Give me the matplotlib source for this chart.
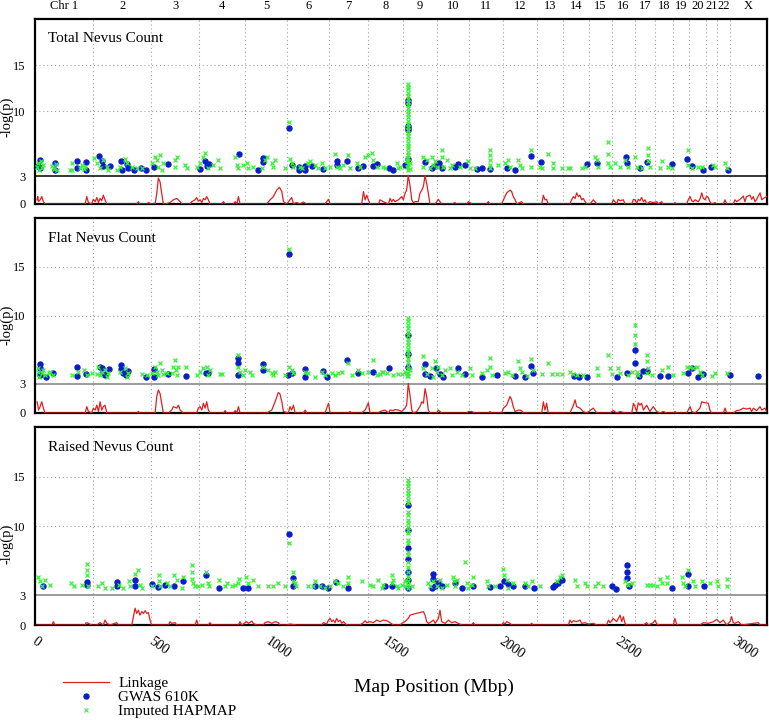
import numpy as np
import matplotlib.pyplot as plt
from matplotlib.lines import Line2D

plt.rcParams['font.family'] = ['Liberation Serif', 'DejaVu Serif']

RED = '#e02020'
BLUE = '#0a1ec8'
GREEN = '#38f038'
GRID = '#a0a0a0'

chr_names = ['Chr 1', '2', '3', '4', '5', '6', '7', '8', '9', '10', '11', '12',
             '13', '14', '15', '16', '17', '18', '19', '20', '21', '22', 'X']
# chromosome boundaries along the map (Mbp)
chr_bounds = [240, 489, 694, 891, 1072, 1252, 1419, 1569, 1714, 1852, 1997, 2143,
              2254, 2366, 2464, 2563, 2649, 2726, 2795, 2867, 2915, 2970]
x_min, x_max = -9, 3129
x_ticks = [0, 500, 1000, 1500, 2000, 2500, 3000]
y_ticks = [0, 3, 10, 15]
titles = ['Total Nevus Count', 'Flat Nevus Count', 'Raised Nevus Count']

# ---- Total nevus count ----
tot_link = [(0,0.45),(3,0.8),(6,0.25),(13,0.45),(20,0.8),(27,0.25),(34,0),
    (206,0),(213,0.8),(220,0.15),(234,0),(241,0.5),(249,0.25),(256,0.7),(263,0.15),(270,0.6),(277,0.35),(284,0.95),(291,0.45),(299,0),
    (427,0),(434,0.25),(441,0),(470,0),(477,0.15),(491,0),
    (506,0),(513,1.15),(520,2.8),(527,2.4),(534,1.15),(541,0.05),(549,0),
    (570,0.15),(584,0.45),(599,0.6),(613,0.25),(620,0),
    (656,0),(663,0.25),(677,0.45),(684,0.7),(691,0.3),(699,0.45),(706,0.15),(713,0.6),(720,0.45),(727,0.8),(734,0.45),(741,0),
    (791,0),(799,0.25),(806,0),(841,0),(849,0.25),(856,0),(863,0.8),(870,0),
    (984,0),(999,0.45),(1013,0.8),(1027,1.5),(1039,1.8),(1049,1.35),(1056,0.25),(1070,0),(1084,0.45),(1091,0.7),(1099,0.05),(1113,0.15),(1127,0),(1141,0.2),(1156,0),
    (1234,0),(1249,0.5),(1256,0),
    (1391,0),(1399,1.35),(1406,0.45),(1413,0.95),(1420,0.45),(1427,0),
    (1463,0),(1470,0.45),(1484,0.25),(1506,0),(1513,0.6),(1520,0.25),(1527,0.5),(1534,0.25),(1549,0.45),(1563,0.8),(1570,0.45),(1577,1.15),(1584,1.5),(1591,3.1),(1599,1.9),(1606,0.45),(1613,0.15),(1620,0.25),(1634,0.25),(1641,1.15),(1649,1.5),(1656,1.9),(1663,3.1),(1670,2.2),(1677,1.15),(1684,0),
    (1706,0),(1720,0.5),(1727,0.25),(1734,0),(1777,0),(1791,0.15),(1799,0),
    (1841,0),(1849,0.25),(1856,0.15),(1863,0),(1927,0),(1934,0.25),(1941,0),
    (1991,0),(1999,0.45),(2013,1.2),(2027,1.5),(2034,1.35),(2041,0.8),(2049,0.45),(2056,0),(2077,0.25),(2084,0),
    (2163,0),(2170,0.95),(2177,0.45),(2184,0.5),(2191,0),
    (2284,0),(2291,0.45),(2299,0.8),(2306,0.6),(2313,1.2),(2320,0.8),(2327,0.95),(2334,0.45),(2341,0.6),(2349,0.25),(2356,0),(2370,0),(2384,0.45),(2391,0.25),(2399,0),
    (2463,0),(2470,0.45),(2477,0.25),(2484,0),(2491,0.5),(2499,0.35),(2513,0.45),(2520,0),
    (2549,0),(2556,0.5),(2563,0.45),(2570,0.05),(2577,0.5),(2584,0.35),(2591,0.7),(2599,0.25),(2606,0.45),(2613,0),(2627,0.25),(2641,0.15),(2656,0.25),(2663,0),(2677,0.25),(2684,0),
    (2727,0),(2734,0.15),(2741,0),
    (2784,0),(2791,0.45),(2799,0.8),(2806,0.35),(2813,0.25),(2820,0.45),(2834,0.25),(2841,0.5),(2849,1.2),(2856,0.6),(2863,0.45),(2870,0.85),(2877,0.7),(2884,0.25),(2891,0),(2906,0.15),(2913,0),(2941,0),(2949,0.45),(2956,0),
    (2984,0),(2991,0.45),(2999,0.25),(3013,0.5),(3027,0.85),(3034,0.25),(3041,0.8),(3056,0.95),(3063,0.5),(3070,0.8),(3077,0.25),(3084,0.5),(3099,1.2),(3106,0.45),(3113,0.6),(3127,0.8)]

tot_gwas = [(2,4.1),(13,4.8),(13,3.9),(77,4.4),(77,3.7),(173,4.7),(173,3.9),(210,4.5),(210,3.7),(267,5.2),(277,4.6),(284,4.1),(313,4.1),
    (359,4.6),(363,3.7),(387,4.3),(391,3.9),(416,3.7),(444,3.9),(467,3.7),(499,4.0),(563,4.3),(699,3.8),(720,4.6),(727,4.1),(739,4.3),
    (866,5.4),(949,3.7),(970,5.0),(970,4.5),(1080,8.25),(1091,4.2),(1123,4.0),(1123,3.7),(1149,4.1),(1149,3.7),(1177,4.1),(1227,3.8),
    (1284,4.6),(1284,4.2),(1330,4.6),(1377,3.9),(1396,4.1),(1441,4.1),(1456,4.3),(1510,3.9),(1527,3.7),
    (1577,4.2),(1591,4.9),(1591,8.0),(1591,8.25),(1591,8.4),(1591,10.9),(1591,11.2),(1663,4.5),(1691,3.9),(1706,4.1),(1724,4.4),(1734,3.9),
    (1791,4.0),(1806,4.3),(1834,4.2),(1884,3.8),(1906,3.9),(1941,3.8),(2013,3.9),(2049,3.7),(2117,5.2),(2159,4.5),(2356,4.3),(2399,4.4),
    (2524,5.1),(2527,4.4),(2584,3.9),(2613,4.5),(2720,4.3),(2787,4.9),(2806,4.1),(2856,3.7),(2889,4.0),(2963,3.7)]

tot_imp = [(0,4.0),(5,4.4),(10,3.7),(15,4.6),(22,3.9),(26,4.2),(65,4.1),(72,3.8),(80,4.3),(85,3.7),
    (141,3.7),(149,4.4),(150,3.7),(184,3.9),(191,4.2),(200,3.8),(206,4.0),
    (246,5.0),(256,4.4),(270,3.9),(284,4.8),(299,4.0),(306,3.7),
    (341,3.7),(356,4.0),(377,4.9),(384,4.4),(406,4.0),(427,3.9),
    (449,3.9),(491,4.4),(506,5.1),(513,4.8),(520,4.0),(527,5.3),(534,3.7),(541,4.4),
    (591,4.8),(591,4.0),(599,5.1),(634,4.2),(641,3.9),
    (684,4.0),(699,4.4),(713,5.1),(720,5.5),(734,3.9),(756,4.2),(777,4.8),(784,3.9),
    (849,5.1),(856,4.2),(863,3.9),(884,4.2),(899,4.4),(906,3.9),(927,4.0),
    (963,3.9),(977,4.8),(984,5.1),(1006,4.4),(1013,4.0),(1020,4.8),
    (1063,3.9),(1081,8.9),(1084,4.9),(1091,4.4),(1099,4.0),
    (1127,4.0),(1134,3.9),(1163,4.4),(1170,4.6),(1191,4.2),(1206,3.9),(1220,4.4),(1234,3.9),(1256,4.0),
    (1277,5.4),(1284,4.0),(1299,3.9),(1313,4.2),(1334,5.3),(1341,3.9),
    (1370,4.4),(1384,4.0),(1406,5.1),(1420,5.3),(1434,5.5),(1441,4.8),(1456,4.0),
    (1484,4.0),(1491,3.9),(1541,4.4),(1549,3.9),(1556,4.0),
    (1591,13.0),(1591,12.7),(1591,12.4),(1591,12.0),(1591,11.7),(1591,11.4),(1591,11.0),(1591,10.7),(1591,10.4),(1591,10.0),
    (1591,9.7),(1591,9.4),(1591,9.0),(1591,8.7),(1591,8.3),(1591,8.0),(1591,7.7),(1591,7.3),(1591,7.0),(1591,6.6),
    (1591,6.3),(1591,6.0),(1591,5.6),(1591,5.3),(1591,5.0),(1591,4.6),(1591,4.3),(1591,4.0),(1591,3.7),
    (1584,4.0),(1584,4.6),(1584,5.0),(1599,3.8),(1599,4.4),
    (1656,5.1),(1656,4.0),(1670,4.8),(1684,3.9),(1691,5.1),(1699,4.2),(1706,4.6),(1713,4.0),(1734,5.8),(1734,5.1),(1741,4.0),(1756,4.8),(1770,3.9),(1777,4.2),
    (1813,4.0),(1849,4.6),(1856,3.9),(1877,3.9),
    (1941,5.8),(1941,5.3),(1941,4.8),(1941,4.2),(1941,3.9),
    (1977,4.2),(2006,4.4),(2020,4.8),(2027,4.0),(2063,4.8),(2070,4.2),(2077,3.9),
    (2117,5.8),(2117,4.0),(2156,4.0),(2163,3.9),(2189,5.4),(2210,4.4),(2213,3.9),
    (2249,3.9),(2277,3.9),(2284,3.9),(2334,3.9),(2349,4.0),
    (2391,5.1),(2399,4.8),(2406,4.0),(2449,6.7),(2449,5.4),(2449,4.4),(2456,4.0),(2477,4.4),(2499,4.0),
    (2520,4.8),(2534,4.0),(2563,5.1),(2570,4.0),(2591,3.9),(2620,6.0),(2620,5.3),(2620,4.6),(2627,4.0),
    (2670,3.9),(2677,4.6),(2706,4.0),(2720,3.9),(2789,5.8),(2791,4.2),(2806,3.9),(2834,4.0),(2849,4.0),
    (2899,4.2),(2906,4.0),(2949,4.4),(2956,3.9)]

# ---- Flat nevus count ----
flat_link = [(0,1.15),(3,0.8),(6,0.3),(13,0.65),(20,1.15),(27,0.5),(34,0),
    (206,0),(213,0.65),(220,0.15),(234,0),(241,0.5),(249,0.3),(256,0.8),(263,0.15),(270,1.15),(277,0.3),(284,0.65),(291,0.8),(299,0),
    (427,0),(434,0.15),(441,0),
    (506,0),(513,1.7),(520,2.35),(527,2.0),(534,1.0),(541,0),
    (563,0),(577,0.3),(584,0.65),(599,0.5),(606,0.8),(613,0.3),(620,0.15),(627,0),
    (684,0),(691,0.5),(699,0.65),(706,0.3),(713,1.0),(720,0.5),(727,1.15),(734,0.3),(741,0),
    (799,0),(806,0.25),(813,0),(841,0),(849,0.25),(856,0),(863,0.65),(870,0),
    (984,0),(1006,0.3),(1020,1.15),(1034,2.1),(1041,1.95),(1049,1.15),(1056,0.15),(1077,0),(1084,0.65),(1091,0.3),(1099,0.8),(1106,0),(1141,0),(1149,0.3),(1156,0),
    (1234,0),(1249,1.0),(1256,0),(1334,0),(1341,0.15),(1349,0),
    (1391,0),(1406,0.3),(1413,0.65),(1420,1.05),(1427,0),
    (1463,0),(1470,0.15),(1491,0.3),(1506,0),(1513,0.3),(1527,0.25),(1534,0.35),(1549,0.3),(1563,0.15),(1577,0.5),(1584,0.8),(1591,3.05),(1599,1.7),(1606,0.3),(1613,0),(1627,0.15),(1641,0.65),(1649,1.15),(1656,1.0),(1663,2.5),(1670,1.7),(1677,0.3),(1684,0),
    (1713,0),(1720,0.3),(1727,0.15),(1734,0),
    (1841,0),(1849,0.15),(1863,0.15),(1877,0),(1934,0),(1941,0.15),(1949,0),
    (1991,0),(1999,0.5),(2013,0.8),(2027,1.7),(2034,1.35),(2041,0.65),(2049,0.15),(2063,0.3),(2077,0.25),(2084,0),
    (2163,0),(2170,1.15),(2177,0.3),(2184,1.0),(2191,0),
    (2284,0),(2299,0.8),(2306,1.35),(2313,0.65),(2327,0.5),(2341,0.15),(2356,0),(2384,0.5),(2399,0),
    (2456,0),(2470,0.25),(2484,0),(2499,0.15),(2520,0),
    (2549,0),(2556,1.0),(2563,0.65),(2570,0.15),(2577,1.05),(2584,0.8),(2591,1.0),(2599,0.3),(2613,0.8),(2627,0.15),(2641,0.65),(2656,0.15),(2670,0),(2684,0.15),(2698,0),
    (2727,0),(2734,0.15),(2741,0),
    (2784,0),(2799,0.65),(2806,0.15),(2820,0),(2841,0.5),(2849,1.15),(2863,1.05),(2877,1.0),(2884,0.3),(2891,0),(2941,0),(2949,0.5),(2956,0),
    (2984,0),(2999,0.25),(3013,0.3),(3027,0.5),(3041,0.4),(3056,0.5),(3063,0.15),(3070,0.5),(3084,0.25),(3099,0.65),(3106,0.3),(3120,0.5),(3127,0.15)]

flat_gwas = [(13,5.0),(13,4.6),(13,3.9),(39,3.7),(67,4.1),(170,4.7),(170,3.8),(210,4.0),(270,4.75),(277,4.6),(284,4.2),(291,3.9),(310,4.5),
    (359,4.9),(359,4.5),(370,4.1),(381,3.9),(389,4.3),(467,3.7),(499,3.7),(501,4.5),(563,4.0),(639,3.8),(723,4.1),(734,4.1),
    (863,5.6),(863,5.1),(863,3.9),(970,5.0),(970,4.4),(1080,16.3),(1077,3.9),(1091,4.1),(1149,4.5),(1149,3.7),(1224,4.3),(1241,3.7),
    (1327,5.4),(1377,4.1),(1441,4.2),(1510,4.6),
    (1591,8.0),(1591,6.1),(1591,4.75),(1663,5.0),(1663,4.0),(1684,3.8),(1710,4.6),(1727,4.0),(1741,3.7),(1806,4.65),(1834,4.0),
    (1906,3.7),(1970,3.9),(2049,3.8),(2091,3.7),(2117,4.85),(2124,4.1),(2303,3.8),(2323,3.7),(2359,3.7),(2487,3.7),(2527,4.1),
    (2563,6.5),(2563,5.1),(2581,3.8),(2599,4.3),(2613,4.3),(2670,3.8),(2706,3.8),(2791,4.1),(2806,4.6),(2834,3.7),(2856,4.0),
    (2970,3.9),(3091,3.8)]

flat_imp = [(2,4.2),(5,4.6),(8,3.7),(20,4.1),(27,4.4),(35,3.9),(49,4.1),(56,4.2),(70,3.9),
    (149,3.9),(177,4.2),(199,4.4),(213,3.9),(234,4.1),
    (256,4.0),(263,4.75),(270,3.9),(277,4.2),(291,4.4),(299,3.7),(306,4.1),
    (356,4.2),(377,4.6),(384,3.7),(391,4.1),(449,4.0),(470,3.9),
    (491,4.1),(506,4.75),(513,4.2),(520,3.9),(527,5.1),(534,4.4),(541,4.0),(556,4.1),
    (577,4.1),(584,4.75),(591,5.4),(596,4.4),(599,3.9),(606,4.75),(639,4.75),
    (684,3.9),(699,4.2),(713,4.6),(727,4.75),(734,3.9),(741,4.4),(784,4.0),(791,4.0),
    (863,5.9),(863,4.75),(870,4.2),(884,3.9),(891,4.4),(913,4.2),(920,3.9),
    (970,4.75),(991,4.4),(1006,4.1),(1013,3.9),(1020,4.2),
    (1063,3.9),(1081,16.8),(1081,4.75),(1091,4.4),(1099,4.1),
    (1149,4.2),(1163,4.1),(1191,3.7),(1220,4.2),(1234,3.9),(1263,4.1),
    (1277,3.9),(1291,4.1),(1306,4.2),(1334,5.1),(1349,3.9),(1377,4.4),
    (1391,4.1),(1420,4.2),(1441,5.4),(1456,3.9),(1477,4.2),(1499,4.1),(1527,3.9),(1549,4.0),
    (1470,4.0),(1484,4.2),(1563,4.0),(1577,4.2),
    (1591,9.7),(1591,9.4),(1591,9.0),(1591,8.7),(1591,8.3),(1591,8.0),(1591,7.6),(1591,7.3),(1591,7.0),
    (1591,6.6),(1591,6.3),(1591,5.9),(1591,5.5),(1591,5.2),(1591,4.8),(1591,4.5),(1591,4.1),(1591,3.8),
    (1584,4.1),(1584,3.8),(1599,4.4),
    (1656,5.8),(1656,4.6),(1670,4.0),(1691,4.6),(1699,3.7),(1706,5.3),(1713,4.2),(1720,4.75),(1734,3.9),(1749,4.4),(1770,4.6),(1777,3.9),
    (1799,4.2),(1820,3.9),(1856,4.6),(1863,3.9),
    (1906,4.1),(1927,4.4),(1941,5.6),(1941,4.75),(1949,3.9),
    (2006,4.1),(2020,4.2),(2034,3.9),(2063,5.3),(2070,4.6),(2077,4.2),(2099,3.8),
    (2119,5.5),(2127,4.4),(2163,4.0),(2191,5.1),(2206,4.0),(2227,4.0),(2249,4.0),
    (2284,4.2),(2299,4.0),(2313,3.9),(2341,3.9),(2399,4.6),(2406,3.9),
    (2449,5.9),(2456,4.6),(2463,4.0),(2491,4.6),(2499,4.1),(2534,3.9),(2549,4.2),
    (2563,9.0),(2563,8.0),(2563,7.1),(2570,4.2),(2577,3.9),
    (2613,5.9),(2613,5.3),(2620,4.6),(2613,4.1),(2634,3.9),
    (2677,4.4),(2706,4.75),(2727,3.9),
    (2770,4.1),(2784,4.75),(2799,4.75),(2813,4.6),(2827,4.75),(2841,4.2),(2849,3.9),
    (2891,3.8),(2906,4.1),(2956,4.1)]

# ---- Raised nevus count ----
raised_link = [(0,0),(63,0),(70,0.34),(77,0),(206,0),(210,0.24),(220,0.17),(234,0),(256,0),(270,0.24),(284,0),(291,0.5),(299,0.17),(313,0),(341,0.24),(349,0),
    (406,0),(413,0.84),(420,1.7),(427,1.18),(434,1.5),(441,1.0),(449,1.35),(456,1.18),(463,1.45),(470,1.18),(477,1.25),(484,0.5),(491,0),
    (563,0),(570,0.34),(577,0.17),(591,0.24),(599,0),(677,0),(684,0.5),(691,0),(734,0),(741,0.24),(749,0),
    (863,0),(870,0.34),(877,0),(899,0.34),(906,0.17),(920,0.4),(927,0.17),(941,0),(970,0),(977,0.24),(991,0.34),(1006,0.17),(1020,0.34),(1034,0.24),(1041,0),
    (1070,0),(1084,0.1),(1113,0),
    (1220,0),(1227,0.24),(1241,0.1),(1249,0.5),(1256,0.67),(1263,0.34),(1270,0.5),(1277,0.24),(1284,0.67),(1291,0.34),(1299,0.5),(1306,0.17),(1313,0.34),(1327,0),
    (1384,0),(1399,0.24),(1406,0.44),(1413,0.24),(1427,0.34),(1441,0.24),(1456,0.5),(1470,0.34),(1484,0.5),(1499,0.44),(1513,0.24),(1527,0),
    (1556,0),(1563,0.17),(1577,0.34),(1591,0.67),(1599,1.0),(1613,1.1),(1627,1.18),(1641,1.25),(1656,1.35),(1663,1.0),(1670,0.34),(1677,0.17),(1684,0.24),(1699,0.5),(1706,0.17),(1720,0.67),(1727,1.5),(1734,0.34),(1749,0.17),(1763,0.5),(1777,0.24),(1791,0.34),(1806,0.17),(1820,0),(1863,0),(1870,0.24),(1877,0),
    (1991,0),(1999,0.24),(2006,0.1),(2013,0.34),(2027,0.17),(2034,0),(2113,0),(2120,0.17),(2127,0),
    (2277,0),(2284,0.5),(2291,0.24),(2299,0.44),(2313,0.34),(2327,0.5),(2334,0.17),(2349,0.24),(2363,0.1),(2384,0.17),(2399,0),
    (2441,0),(2449,0.5),(2456,0.24),(2470,0.67),(2484,0.34),(2499,1.0),(2506,0.34),(2513,0.84),(2520,0.17),(2527,0),
    (2599,0),(2613,0.24),(2620,0),(2641,0.24),(2649,0.5),(2656,0.1),(2670,0),
    (2727,0),(2734,0.67),(2741,0.1),(2749,0),
    (2841,0),(2856,0.24),(2877,0.17),(2899,0.34),(2913,0.57),(2927,0.24),(2941,0.5),(2956,0),(2970,0.34),(2977,0.84),(2984,0.24),(2991,0.17),(3006,0.34),(3020,0),(3091,0.24),(3099,0),(3127,0)]

raised_gwas = [(27,3.9),(216,4.3),(216,4.0),(344,4.3),(344,3.9),(420,4.5),(420,3.9),(494,4.1),(520,3.8),(549,4.0),(587,3.9),(627,4.4),
    (723,5.1),(781,3.7),(881,3.7),(906,3.7),(1081,9.2),(1096,4.8),(1099,3.9),(1191,3.9),(1220,3.9),(1249,3.7),(1281,4.3),(1334,3.7),
    (1491,3.9),(1520,3.9),
    (1591,3.7),(1591,4.5),(1591,5.4),(1591,6.7),(1591,7.8),(1591,9.6),(1591,12.1),(1691,3.7),(1699,4.7),(1699,5.2),(1706,3.9),
    (1720,4.2),(1734,3.9),(1791,4.2),(1820,3.7),(1870,3.9),(1941,3.8),(1984,3.9),(2001,4.4),(2020,4.1),(2041,3.9),(2091,3.9),
    (2130,3.7),(2213,3.8),(2220,4.0),(2234,4.2),(2249,4.5),(2463,3.9),(2481,3.6),(2527,6.1),(2527,5.4),(2527,4.8),(2539,3.9),
    (2720,3.7),(2791,5.2),(2791,3.9),(2859,3.9)]

raised_imp = [(6,4.9),(13,4.4),(20,3.9),(34,4.5),(56,4.0),
    (144,4.2),(159,3.9),(191,4.0),(216,6.2),(216,5.6),(216,5.1),(220,3.9),
    (263,3.9),(277,4.2),(291,3.7),(320,3.7),(349,4.0),(370,3.7),
    (396,4.4),(399,3.9),(420,5.2),(434,5.6),(441,4.0),(449,3.7),
    (491,3.9),(523,5.05),(523,4.4),(527,3.9),(556,4.2),(570,3.9),(587,5.05),(599,4.5),(620,3.7),
    (627,4.9),(663,6.1),(663,5.4),(663,4.7),(670,4.2),(677,3.9),(691,3.9),(706,4.0),
    (723,5.4),(734,4.2),(737,3.9),
    (781,4.5),(806,3.9),(813,4.2),(834,3.9),(849,4.0),(863,4.2),(867,4.7),
    (896,4.9),(906,4.2),(927,4.5),(949,3.9),
    (991,3.9),(1013,3.9),(1034,4.2),(1063,3.9),
    (1081,8.25),(1096,5.4),(1099,4.4),(1106,4.2),(1110,3.9),
    (1163,3.9),(1184,3.9),(1191,4.4),(1213,3.9),(1234,3.7),(1256,3.9),
    (1277,4.4),(1291,4.2),(1313,3.9),(1334,4.9),(1334,4.2),
    (1391,4.4),(1427,4.0),(1441,3.9),(1463,4.5),(1477,3.7),(1484,4.0),(1520,5.05),(1524,4.5),(1520,4.2),(1541,3.9),(1549,3.7),(1563,4.0),(1577,4.4),
    (1591,14.6),(1591,14.3),(1591,14.0),(1591,13.6),(1591,13.3),(1591,13.0),(1591,12.6),(1591,12.3),(1591,11.4),
    (1591,11.1),(1591,10.6),(1591,10.3),(1591,9.9),(1591,9.6),(1591,9.3),(1591,8.6),(1591,8.25),(1591,7.4),
    (1591,7.1),(1591,6.4),(1591,5.9),(1591,5.4),(1591,4.9),(1591,4.4),(1591,4.0),(1591,3.7),
    (1577,3.9),(1606,3.9),
    (1677,4.2),(1684,3.9),(1699,4.4),(1713,3.9),(1727,4.5),(1734,3.7),(1756,4.0),
    (1784,4.9),(1787,4.4),(1791,3.9),(1799,4.5),
    (1834,6.4),(1841,4.2),(1849,3.7),(1863,4.0),(1867,4.9),
    (1927,4.4),(1934,3.9),(1963,3.9),
    (1999,5.7),(2001,5.05),(2013,4.5),(2020,3.7),(2041,4.2),
    (2091,4.2),(2106,3.9),(2120,4.4),(2156,3.9),
    (2227,4.4),(2241,4.9),(2249,5.05),
    (2306,4.5),(2313,3.9),(2349,4.2),(2356,3.9),(2391,3.9),(2406,4.2),(2427,3.9),
    (2520,4.4),(2534,4.0),(2549,4.2),
    (2613,4.0),(2627,4.0),(2641,4.0),(2656,3.9),(2670,4.7),(2677,4.2),(2699,4.9),(2699,4.2),
    (2763,4.9),(2770,4.2),(2777,3.9),(2791,5.6),(2813,4.4),(2820,3.9),
    (2849,4.4),(2884,4.2),(2913,4.4),(2920,3.9),(2956,4.7),(2956,3.9)]

panels = [(tot_link, tot_gwas, tot_imp), (flat_link, flat_gwas, flat_imp), (raised_link, raised_gwas, raised_imp)]

fig = plt.figure(figsize=(7.69, 7.2), dpi=100)
boxes = [[0.0455, 0.7167, 0.952, 0.2569],
         [0.0455, 0.4264, 0.952, 0.2708],
         [0.0455, 0.1319, 0.952, 0.2750]]
ylab_y = [0.47, 0.45, 0.41]
thr_color = ['black', '#808080', '#808080']

edges = [x_min] + chr_bounds + [x_max]
chr_mids = [(edges[i] + edges[i + 1]) / 2 for i in range(len(chr_names))]

axes = []
for i, (link, gwas, imp) in enumerate(panels):
    ax = fig.add_axes(boxes[i])
    axes.append(ax)
    link = np.array(link)
    gwas = np.array(gwas)
    imp = np.array(imp)

    for b in chr_bounds:
        ax.axvline(b, color=GRID, lw=0.8, ls=(0, (1, 2.5)), zorder=1)
    for yv in (10, 15):
        ax.axhline(yv, color=GRID, lw=0.8, ls=(0, (1, 2.5)), zorder=1)
    ax.axhline(3, color=thr_color[i], lw=1.1, zorder=2)

    ax.plot(link[:, 0], link[:, 1], color=RED, lw=0.9, zorder=3)
    ax.plot(gwas[:, 0], gwas[:, 1], ls='none', marker='o', ms=3.6,
            color=BLUE, mec=BLUE, zorder=4)
    ax.plot(imp[:, 0], imp[:, 1], ls='none', marker='x', ms=3.4, mew=0.9,
            color=GREEN, zorder=5)

    ax.set_xlim(x_min, x_max)
    ax.set_ylim(0, 20)
    ax.set_yticks(y_ticks)
    ax.set_yticklabels([str(t) for t in y_ticks])
    ax.tick_params(axis='y', length=0, pad=7, labelsize=9)
    ax.set_ylabel('-log(p)', fontsize=10.5)
    ax.yaxis.set_label_coords(-0.030, ylab_y[i])
    for s in ax.spines.values():
        s.set_linewidth(1.6)
    ax.text(0.018, 0.895, titles[i], transform=ax.transAxes, fontsize=11,
            ha='left', va='center')

    if i == 2:
        ax.set_xticks(x_ticks)
        ax.set_xticklabels([str(t) for t in x_ticks], rotation=-35, ha='left',
                           va='top', rotation_mode='anchor', fontsize=10)
        ax.tick_params(axis='x', length=0, pad=7)
    else:
        ax.set_xticks([])

top = axes[0]
for name, m in zip(chr_names, chr_mids):
    top.text(m, 1.07, name, transform=top.get_xaxis_transform(), ha='center',
             va='center', fontsize=9)

fig.text(0.564, 0.046, 'Map Position (Mbp)', ha='center', va='center', fontsize=14)

handles = [Line2D([], [], color=RED, lw=0.9),
           Line2D([], [], ls='none', marker='o', ms=3.6, color=BLUE),
           Line2D([], [], ls='none', marker='x', ms=3.0, mew=0.8, color=GREEN)]
fig.legend(handles, ['Linkage', 'GWAS 610K', 'Imputed HAPMAP'], loc='upper left',
           bbox_to_anchor=(0.082, 0.060), frameon=False, fontsize=11,
           handlelength=3, labelspacing=0, handletextpad=0.6, borderpad=0,
           borderaxespad=0)

fig.savefig('out.png', dpi=100)
